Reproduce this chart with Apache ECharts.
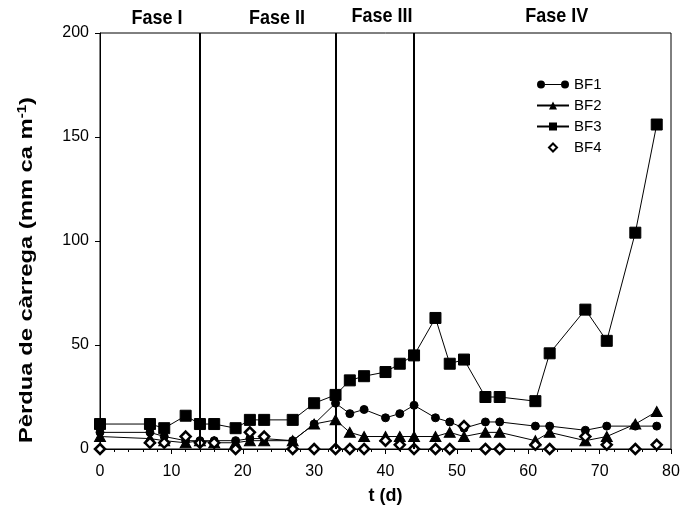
<!DOCTYPE html>
<html>
<head>
<meta charset="utf-8">
<script src="https://cdn.jsdelivr.net/npm/echarts@6/dist/echarts.min.js"></script>
<style>
  html, body { margin: 0; padding: 0; background: #fff; }
  #chart { width: 684px; height: 526px; }
</style>
</head>
<body>
<div id="chart"></div>
<script>
// Sampling days (d)
const days = [0, 7, 9, 12, 14, 16, 19, 21, 23, 27, 30, 33, 35, 37, 40, 42, 44, 47, 49, 51, 54, 56, 61, 63, 68, 71, 75, 78];

// Head loss per biofilter (mm ca m-1)
const bf1 = [8, 8, 6, 4, 4, 4, 4, 5, 5, 4, 12, 22, 17, 19, 15, 17, 21, 15, 13, 10, 13, 13, 11, 11, 9, 11, 11, 11];
const bf2 = [6, 5, 4, 3, 4, 3, 3, 4, 4, 4, 12, 14, 8, 6, 6, 6, 6, 6, 8, 6, 8, 8, 4, 8, 4, 6, 12, 18];
const bf3 = [12, 12, 10, 16, 12, 12, 10, 14, 14, 14, 22, 26, 33, 35, 37, 41, 45, 63, 41, 43, 25, 25, 23, 46, 67, 52, 104, 156];
const bf4 = [0, 3, 3, 6, 3, 3, 0, 8, 6, 0, 0, 0, 0, 0, 4, 2, 0, 0, 0, 11, 0, 0, 2, 0, 6, 2, 0, 2];

// Phase boundaries (d) and phase titles with their centre day
const phaseBounds = [14, 33, 44];
const phaseNames = ['Fase I', 'Fase II', 'Fase III', 'Fase IV'];
const phaseCentres = [8, 24.8, 39.5, 64];
const phaseLabelY = [19, 19, 17, 17];

const FONT = '"Liberation Sans", Arial, sans-serif';

// Legend icon for BF1: two dots joined by a thin line
const dotLineIcon = 'path://M0,4a4,4 0 1,0 8,0a4,4 0 1,0 -8,0Z M24,4a4,4 0 1,0 8,0a4,4 0 1,0 -8,0Z M8,3.5L24,3.5L24,4.5L8,4.5Z';

function pairs(ys) { return days.map((d, i) => [d, ys[i]]); }

const chart = echarts.init(document.getElementById('chart'), null, { renderer: 'canvas' });

const baseSeries = {
  type: 'line',
  showSymbol: true,
  symbolKeepAspect: true,
  lineStyle: { color: '#000', width: 1 },
  itemStyle: { color: '#000', borderColor: '#000' },
  emphasis: { disabled: true },
  animation: false
};

chart.setOption({
  animation: false,
  backgroundColor: '#fff',
  grid: {
    left: 100, right: 13, top: 33, bottom: 77,
    show: true, borderColor: '#000', borderWidth: 1, backgroundColor: 'transparent'
  },
  legend: {
    orient: 'vertical',
    left: 531, top: 72,
    itemWidth: 32, itemHeight: 10, itemGap: 6,
    textStyle: { fontFamily: FONT, fontSize: 15, color: '#000' },
    data: [
      { name: 'BF1', icon: dotLineIcon },
      { name: 'BF2' },
      { name: 'BF3' },
      { name: 'BF4' }
    ]
  },
  xAxis: {
    type: 'value', min: 0, max: 80, interval: 10,
    axisLine: { onZero: false, lineStyle: { color: '#000', width: 1 } },
    axisTick: { show: true, length: 5, inside: false, lineStyle: { color: '#000' } },
    minorTick: { show: true, splitNumber: 5, length: 3, lineStyle: { color: '#000' } },
    splitLine: { show: false },
    axisLabel: { fontFamily: FONT, fontSize: 16, color: '#000', margin: 15 },
    name: 't (d)', nameLocation: 'middle', nameGap: 38,
    nameTextStyle: { fontFamily: FONT, fontSize: 18, fontWeight: 'bold', color: '#000' }
  },
  yAxis: {
    type: 'value', min: 0, max: 200, interval: 50,
    axisLine: { show: true, lineStyle: { color: '#000', width: 1 } },
    axisTick: { show: true, length: 5, inside: false, lineStyle: { color: '#000' } },
    splitLine: { show: false },
    axisLabel: { fontFamily: FONT, fontSize: 16, color: '#000', margin: 11 }
  },
  series: [
    Object.assign({}, baseSeries, { name: 'BF1', symbol: 'circle', symbolSize: 8, data: pairs(bf1) }),
    Object.assign({}, baseSeries, { name: 'BF2', symbol: 'triangle', symbolSize: [11, 10], data: pairs(bf2) }),
    Object.assign({}, baseSeries, {
      name: 'BF3', symbol: 'rect', symbolSize: 11, data: pairs(bf3),
      markLine: {
        silent: true, symbol: ['none', 'none'], animation: false,
        label: { show: false },
        lineStyle: { color: '#000', width: 2, type: 'solid' },
        emphasis: { disabled: true },
        data: phaseBounds.map(v => ({ xAxis: v }))
      }
    }),
    Object.assign({}, baseSeries, {
      name: 'BF4', symbol: 'diamond', symbolSize: 10, data: pairs(bf4),
      lineStyle: { width: 0, opacity: 0 },
      itemStyle: { color: '#fff', borderColor: '#000', borderWidth: 2.5 }
    })
  ]
});

// Phase titles above the plot, centred on their day ranges, plus the y-axis title
const phaseTexts = phaseNames.map((name, i) => ({
  type: 'text',
  x: chart.convertToPixel({ xAxisIndex: 0 }, phaseCentres[i]),
  y: phaseLabelY[i],
  scaleY: 1.1,
  style: {
    text: name, fill: '#000', font: 'bold 18px ' + FONT,
    textAlign: 'center', textVerticalAlign: 'middle'
  }
}));

const yTitle = {
  type: 'text',
  x: 27, y: 270,
  rotation: Math.PI / 2,
  scaleX: 1.25,
  style: {
    text: 'Pèrdua de càrrega (mm ca m{sup|-1})',
    fill: '#000', font: 'bold 19px ' + FONT,
    textAlign: 'center', textVerticalAlign: 'middle',
    rich: {
      sup: { fill: '#000', font: 'bold 12px ' + FONT, verticalAlign: 'top', padding: [0, 0, 9, 0] }
    }
  }
};

chart.setOption({ graphic: phaseTexts.concat([yTitle]) });
</script>
</body>
</html>
